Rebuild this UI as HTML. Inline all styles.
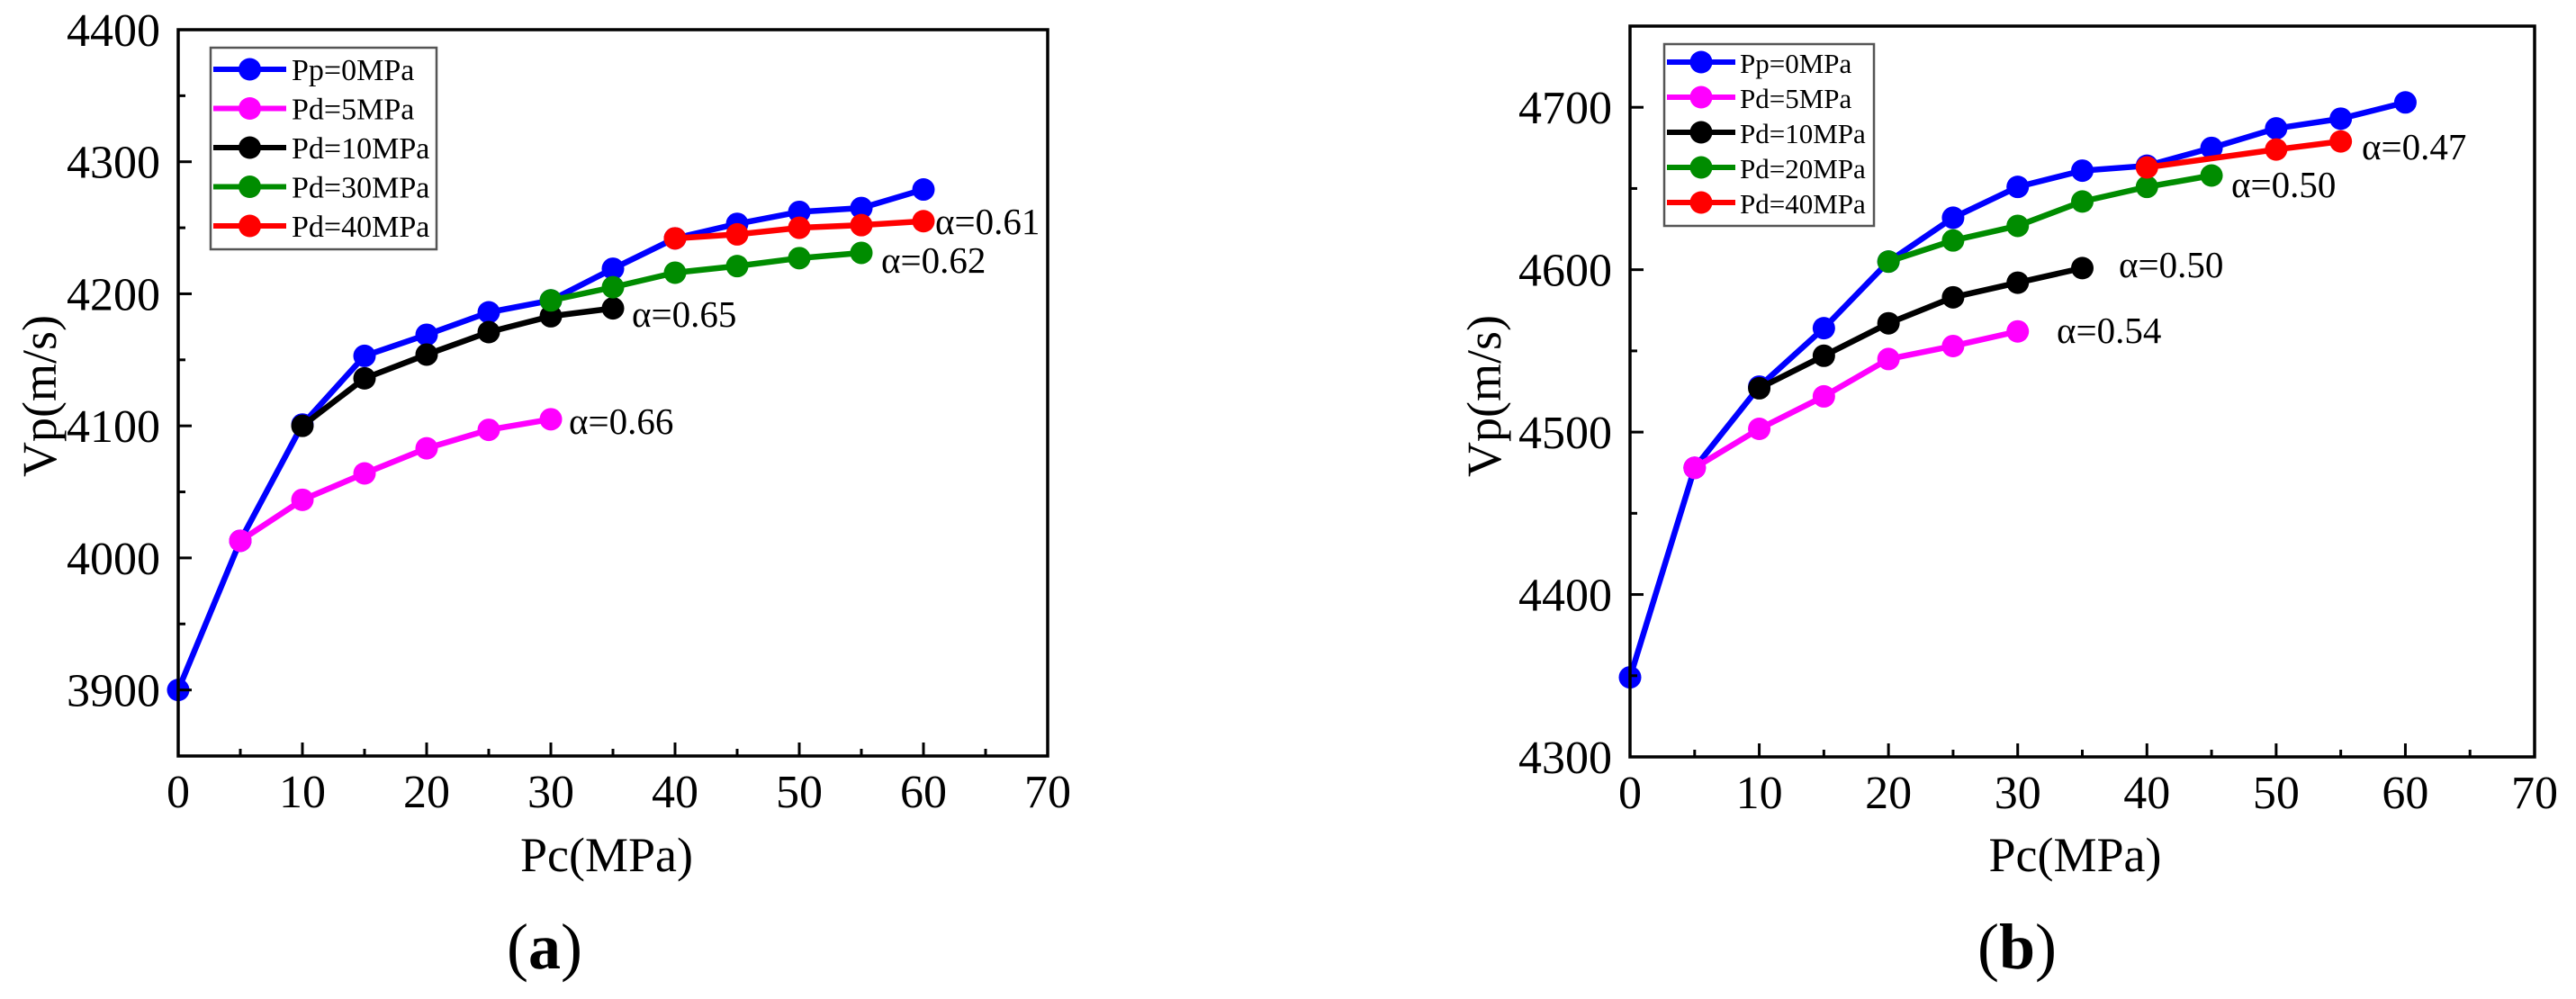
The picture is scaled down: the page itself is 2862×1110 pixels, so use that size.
<!DOCTYPE html>
<html><head><meta charset="utf-8"><style>
html,body{margin:0;padding:0;background:#fff;}
svg, svg text{font-family:"Liberation Serif","Times New Roman",serif;}
svg{display:block;}
</style></head><body>
<svg id="fig" width="2862" height="1110" viewBox="0 0 2862 1110" xmlns="http://www.w3.org/2000/svg"></svg>
<script>
// ---------- Panel (a) data ----------
const aX = [0,5,10,15,20,25,30,35,40,45,50,55,60];
const aBlue = [3900,4013,4101,4153,4169,4186,4195,4219,4242,4253,4262,4265,4279];
const aPinkX = [5,10,15,20,25,30];
const aPink = [4013,4044,4064,4083,4097,4105];
const aBlackX = [10,15,20,25,30,35];
const aBlack = [4100,4136,4154,4171,4183,4189];
const aGreenX = [30,35,40,45,50,55];
const aGreen = [4195,4205,4216,4221,4227,4231];
const aRedX = [40,45,50,55,60];
const aRed = [4242,4245,4250,4252,4255];
const aLegend = ["Pp=0MPa","Pd=5MPa","Pd=10MPa","Pd=30MPa","Pd=40MPa"];
const aAlpha = ["α=0.61","α=0.62","α=0.65","α=0.66"];
const aYTicks = [3900,4000,4100,4200,4300,4400];
// ---------- Panel (b) data ----------
const bX = [0,5,10,15,20,25,30,35,40,45,50,55,60];
const bBlue = [4349,4478,4528,4564,4605,4632,4651,4661,4664,4675,4687,4693,4703];
const bPinkX = [5,10,15,20,25,30];
const bPink = [4478,4502,4522,4545,4553,4562];
const bBlackX = [10,15,20,25,30,35];
const bBlack = [4527,4547,4567,4583,4592,4601];
const bGreenX = [20,25,30,35,40,45];
const bGreen = [4605,4618,4627,4642,4651,4658];
const bRedX = [40,50,55];
const bRed = [4663,4674,4679];
const bLegend = ["Pp=0MPa","Pd=5MPa","Pd=10MPa","Pd=20MPa","Pd=40MPa"];
const bAlpha = ["α=0.47","α=0.50","α=0.50","α=0.54"];
const bYTicks = [4300,4400,4500,4600,4700];
const xTicks = [0,10,20,30,40,50,60,70];

const colors = ["#0000ff","#ff00ff","#000000","#008c00","#ff0000"];
const NS = "http://www.w3.org/2000/svg";
const svg = document.getElementById('fig');
function mk(tag, attrs, parent){const e=document.createElementNS(NS,tag);for(const k in attrs)e.setAttribute(k,attrs[k]);(parent||svg).appendChild(e);return e;}

function panel(cfg){
  const g = mk('g',{});
  
  
  const sx = v => cfg.L + (v - 0) / 70 * (cfg.R - cfg.L);
  const sy = v => cfg.B - (v - cfg.ymin) / (cfg.ymax - cfg.ymin) * (cfg.B - cfg.T);
  cfg.series.forEach((s, i) => {
    const sg = mk('g', {}, g);
    
    
    const pts = s.x.map((xv, j) => sx(xv) + ',' + sy(s.y[j])).join(' ');
    const pl = mk('polyline', {points: pts, fill: 'none', stroke: colors[i], 'stroke-width': 6.5, 'stroke-linejoin': 'round'}, sg);
    
    
    s.x.forEach((xv, j) => {
      const c = mk('circle', {cx: sx(xv), cy: sy(s.y[j]), r: 12.5, fill: colors[i]}, sg);
      
      
    });
  });
  const fr = mk('rect', {x: cfg.L, y: cfg.T, width: cfg.R - cfg.L, height: cfg.B - cfg.T, fill: 'none', stroke: '#000', 'stroke-width': 3.5}, g);
  
  
  for (let v = 0; v <= 70; v += 5) {
    const len = v % 10 === 0 ? 15 : 8;
    const t = mk('line', {x1: sx(v), x2: sx(v), y1: cfg.B, y2: cfg.B - len, stroke: '#000', 'stroke-width': 3}, g);
    
    
  }
  xTicks.forEach(v => {
    const t = mk('text', {x: sx(v), y: cfg.B + 57, 'font-size': 52, 'text-anchor': 'middle'}, g);
    t.textContent = v;
    
    
  });
  for (let v = cfg.ymin; v <= cfg.ymax; v += 50) {
    const len = v % 100 === 0 ? 15 : 8;
    const t = mk('line', {x1: cfg.L, x2: cfg.L + len, y1: sy(v), y2: sy(v), stroke: '#000', 'stroke-width': 3}, g);
    
    
  }
  cfg.yTicks.forEach(v => {
    const t = mk('text', {x: cfg.L - 20, y: sy(v) + 18, 'font-size': 52, 'text-anchor': 'end'}, g);
    t.textContent = v;
    
    
  });
  const xt = mk('text', {x: (cfg.L + cfg.R) / 2 + cfg.xtOff, y: 968, 'font-size': 54, 'text-anchor': 'middle'}, g);
  xt.textContent = 'Pc(MPa)';
  
  
  const yt = mk('text', {x: 0, y: 0, 'font-size': 54, 'text-anchor': 'middle', transform: 'translate(' + cfg.ytX + ',440) rotate(-90)'}, g);
  yt.textContent = 'Vp(m/s)';
  
  
  const pl = mk('text', {x: cfg.labX, y: 1076, 'font-size': 72, 'text-anchor': 'middle'}, g);
  
  
  const t1 = mk('tspan', {}, pl); t1.textContent = '(';
  const t2 = mk('tspan', {'font-weight': 'bold'}, pl); t2.textContent = cfg.letter;
  const t3 = mk('tspan', {}, pl); t3.textContent = ')';
  const lg = mk('g', {}, g);
  
  
  const lb = mk('rect', {x: cfg.lg.x, y: cfg.lg.y, width: cfg.lg.w, height: cfg.lg.h, fill: '#fff', stroke: '#555', 'stroke-width': 2.5}, lg);
  
  
  cfg.series.forEach((s, i) => {
    const yy = cfg.lg.y0 + i * cfg.lg.dy;
    const e = mk('g', {}, lg);
    
    
    mk('line', {x1: cfg.lg.x + 3, x2: cfg.lg.x + 3 + cfg.lg.ll, y1: yy, y2: yy, stroke: colors[i], 'stroke-width': 6}, e);
    mk('circle', {cx: cfg.lg.x + 3 + cfg.lg.ll / 2, cy: yy, r: 12.5, fill: colors[i]}, e);
    const tx = mk('text', {x: cfg.lg.tx, y: yy + 12, 'font-size': cfg.lg.fs}, e);
    tx.textContent = s.label;
  });
  cfg.ann.forEach(a => {
    const t = mk('text', {x: a.x, y: a.y + 14, 'font-size': 41}, g);
    t.textContent = a.t;
    
    
  });
}

panel({
  name: 'panel-a', letter: 'a', L: 198, R: 1164, T: 33, B: 840, ymin: 3850, ymax: 4400,
  yTicks: aYTicks, xtOff: -7, ytX: 62, labX: 605,
  series: [
    {label: aLegend[0], x: aX, y: aBlue},
    {label: aLegend[1], x: aPinkX, y: aPink},
    {label: aLegend[2], x: aBlackX, y: aBlack},
    {label: aLegend[3], x: aGreenX, y: aGreen},
    {label: aLegend[4], x: aRedX, y: aRed}
  ],
  lg: {x: 234, y: 53, w: 251, h: 224, y0: 77, dy: 43.5, ll: 81, tx: 324, fs: 34},
  ann: [{x:1039,y:246,t:aAlpha[0]},{x:979,y:289,t:aAlpha[1]},{x:702,y:349,t:aAlpha[2]},{x:632,y:468,t:aAlpha[3]}]
});
panel({
  name: 'panel-b', letter: 'b', L: 1811, R: 2816, T: 29, B: 841, ymin: 4300, ymax: 4750,
  yTicks: bYTicks, xtOff: -8, ytX: 1667, labX: 2241,
  series: [
    {label: bLegend[0], x: bX, y: bBlue},
    {label: bLegend[1], x: bPinkX, y: bPink},
    {label: bLegend[2], x: bBlackX, y: bBlack},
    {label: bLegend[3], x: bGreenX, y: bGreen},
    {label: bLegend[4], x: bRedX, y: bRed}
  ],
  lg: {x: 1849, y: 49, w: 233, h: 202, y0: 69, dy: 39, ll: 76, tx: 1933, fs: 31},
  ann: [{x:2624,y:163,t:bAlpha[0]},{x:2479,y:205,t:bAlpha[1]},{x:2354,y:294,t:bAlpha[2]},{x:2285,y:367,t:bAlpha[3]}]
});
</script>
</body></html>
